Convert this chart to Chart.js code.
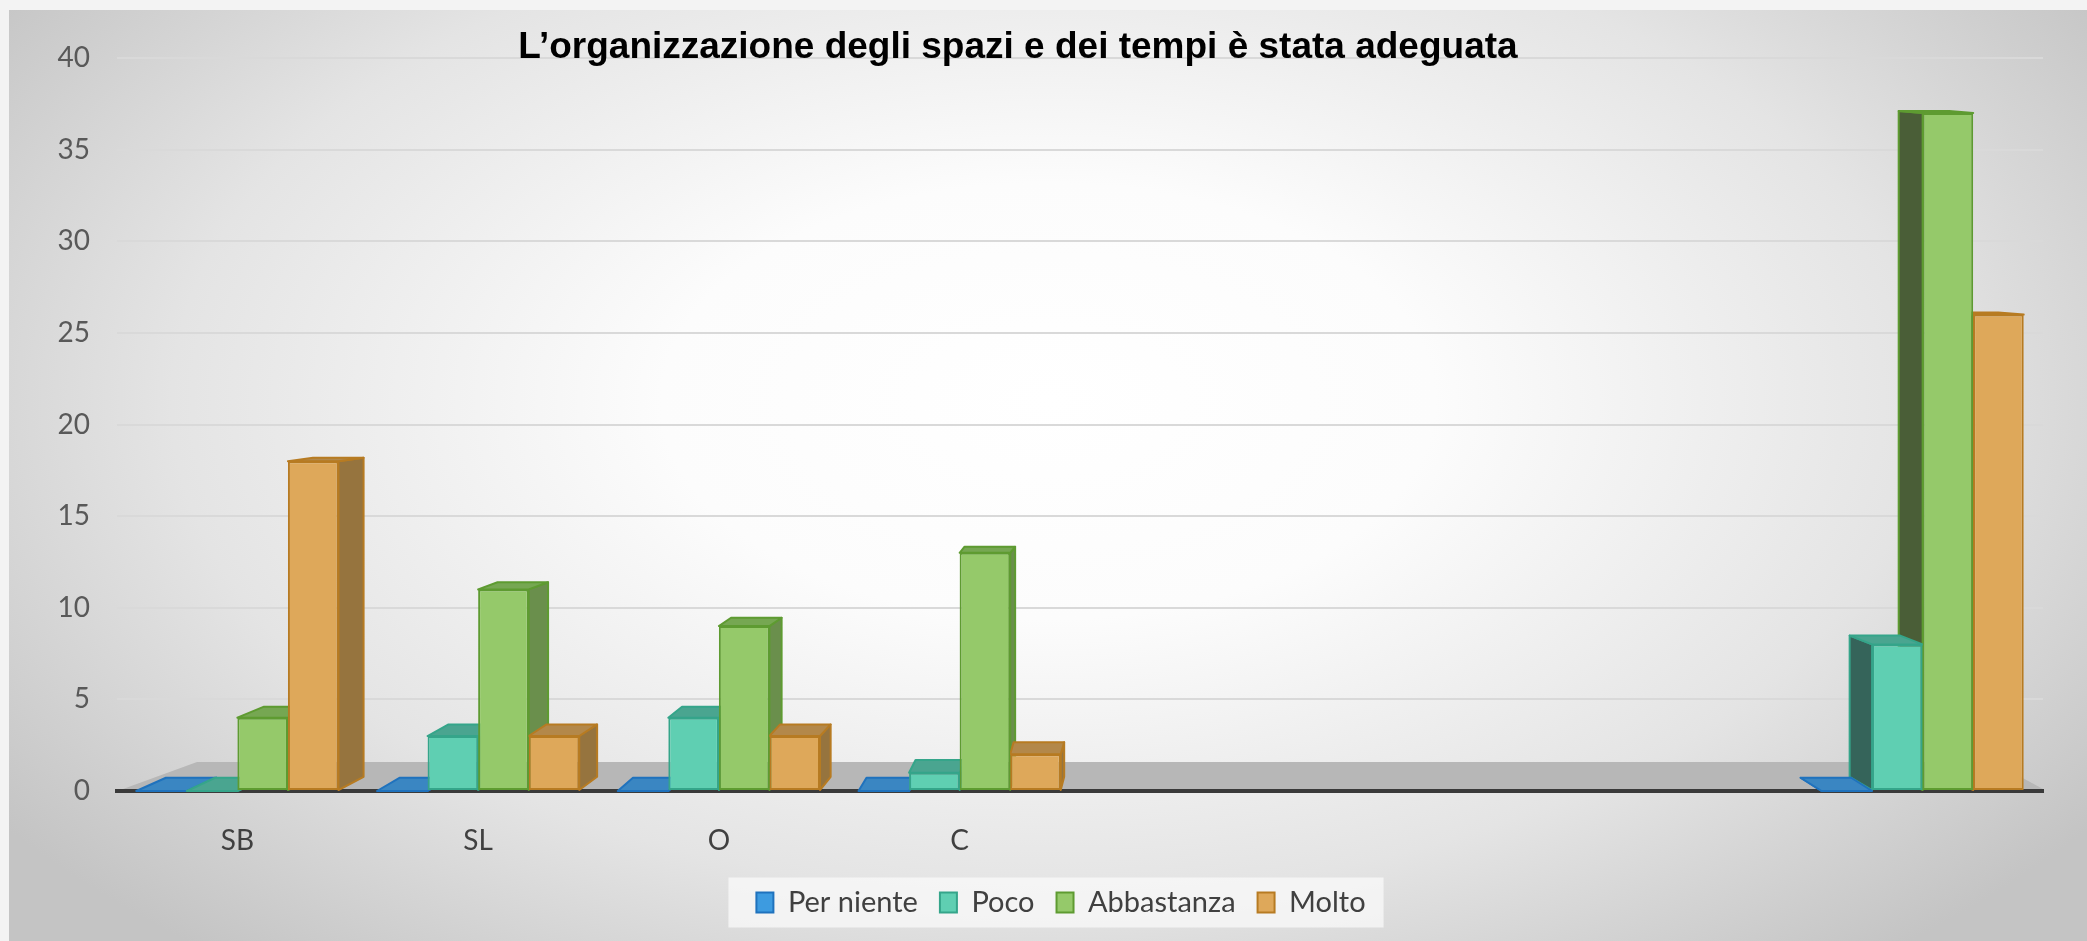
<!DOCTYPE html>
<html lang="it">
<head>
<meta charset="utf-8">
<title>L’organizzazione degli spazi e dei tempi è stata adeguata</title>
<script src="https://cdn.jsdelivr.net/npm/chart.js@4.4.0/dist/chart.umd.min.js"></script>
<style>
  html, body { margin: 0; padding: 0; background: #f3f3f3; overflow: hidden; }
  .cornice {
    position: absolute; left: 9px; top: 10px; width: 2078px; height: 931px;
    background: radial-gradient(ellipse 62% 78% at 50% 42%, #ffffff 0%, #fcfcfc 30%, #e4e4e4 68%, #c4c4c4 100%);
  }
  #grafico { position: absolute; left: 0; top: 0; }
  .titolo {
    position: absolute; left: 0; top: 24px; width: 2036px; text-align: center;
    font: bold 37px "Liberation Sans", Arial, sans-serif; line-height: 44px; color: #000;
  }
</style>
</head>
<body>
<div class="cornice"></div>
<canvas id="grafico" width="2087" height="941"></canvas>
<div class="titolo">L’organizzazione degli spazi e dei tempi è stata adeguata</div>
<script>
// dati (l'ultimo gruppo senza etichetta è il totale)
let categorie = ['SB', 'SL', 'O', 'C', '', '', '', '']
let serie = ['Per niente', 'Poco', 'Abbastanza', 'Molto']
let perNiente = [0, 0, 0, 0, null, null, null, 0]
let poco = [0, 3, 4, 1, null, null, null, 8]
let abbastanza = [4, 11, 9, 13, null, null, null, 37]
let molto = [18, 3, 3, 2, null, null, null, 26]
let tickY = [0, 5, 10, 15, 20, 25, 30, 35, 40]

// colori: fronte, bordo, cima, lato, lato in ombra
let colori = [
  { fronte: '#3d9be0', bordo: '#1f72bd', cima: '#3a86c2', lato: '#2c6a9c', latoScuro: '#25557d' },
  { fronte: '#5fcfb2', bordo: '#35a58a', cima: '#4aa590', lato: '#3f8f7b', latoScuro: '#35645a' },
  { fronte: '#95c96a', bordo: '#5e9b31', cima: '#76a752', lato: '#6a8f4c', latoScuro: '#4a5e37' },
  { fronte: '#dea85a', bordo: '#b77b22', cima: '#b3884a', lato: '#96743e', latoScuro: '#6e5530' }
]

let valori = [perNiente, poco, abbastanza, molto]
let font = 'Lato, "Open Sans", sans-serif'

// finto 3D: pavimento, facce laterali e superiori (le facce frontali le disegna Chart.js)
const profondita = {
  id: 'profondita',
  beforeDatasetsDraw(chart) {
    let ctx = chart.ctx
    let area = chart.chartArea
    let y0 = chart.scales.y.getPixelForValue(0)
    ctx.save()
    ctx.fillStyle = '#b7b7b7'
    ctx.beginPath()
    ctx.moveTo(area.left + 6, y0 - 2)
    ctx.lineTo(area.left + 80, y0 - 29)
    ctx.lineTo(area.right - 50, y0 - 29)
    ctx.lineTo(area.right, y0 - 2)
    ctx.closePath()
    ctx.fill()

    let dy = (y) => Math.max(2, 0.03 * (y - 350))

    ;['lato', 'cima'].forEach((fase) => {
      chart.data.datasets.forEach((ds, i) => {
        let meta = chart.getDatasetMeta(i)
        meta.data.forEach((bar, j) => {
          if (ds.data[j] == null) return
          let l = bar.x - bar.width / 2
          let r = bar.x + bar.width / 2
          let top = bar.y
          let base = bar.base
          let dx = 0.03 * (1150 - bar.x)
          ctx.strokeStyle = colori[i].bordo
          ctx.lineWidth = 2
          ctx.lineJoin = 'round'
          ctx.beginPath()
          if (fase === 'lato') {
            let e = dx > 0 ? r : l
            ctx.fillStyle = dx > 0 ? colori[i].lato : colori[i].latoScuro
            ctx.moveTo(e, top)
            ctx.lineTo(e + dx, top - dy(top))
            ctx.lineTo(e + dx, base - dy(base))
            ctx.lineTo(e, base)
          } else {
            ctx.fillStyle = colori[i].cima
            ctx.moveTo(l, top)
            ctx.lineTo(l + dx, top - dy(top))
            ctx.lineTo(r + dx, top - dy(top))
            ctx.lineTo(r, top)
          }
          ctx.closePath()
          ctx.fill()
          ctx.stroke()
        })
      })
    })
    ctx.restore()
  }
}

// legenda un po' più a sinistra + riquadro chiaro dietro
const sfondoLegenda = {
  id: 'sfondoLegenda',
  afterUpdate(chart) {
    let leg = chart.legend
    if (!leg) return
    leg.left -= 19
    leg.right -= 19
    leg.adjustHitBoxes()
  },
  beforeDraw(chart) {
    let leg = chart.legend
    if (!leg || !leg.lineWidths) return
    let pad = leg.options.labels.padding
    let lw = leg.lineWidths[0]
    let x0 = (leg.left + pad + leg.right - lw) / 2
    let c = leg.top + pad + 14.5
    let ctx = chart.ctx
    ctx.save()
    ctx.fillStyle = 'rgba(250,250,250,0.75)'
    ctx.fillRect(x0 - 28, c - 25, lw - pad + 46, 50)
    ctx.restore()
  }
}

let ctx = document.getElementById('grafico').getContext('2d')
let grafico = new Chart(ctx, {
  type: 'bar',
  data: {
    labels: categorie,
    datasets: serie.map((nome, i) => ({
      label: nome,
      data: valori[i],
      backgroundColor: colori[i].fronte,
      borderColor: colori[i].bordo,
      borderWidth: 2,
      borderSkipped: false,
      categoryPercentage: 0.84,
      barPercentage: 1.0
    }))
  },
  options: {
    responsive: false,
    animation: false,
    events: [],
    layout: { padding: { top: 58, right: 44, bottom: 14, left: 0 } },
    scales: {
      x: {
        grid: { display: false },
        border: { display: true, color: '#3a3a3a', width: 4 },
        ticks: { color: '#404040', padding: 25, font: { family: font, size: 28 } },
        afterFit: (scale) => { scale.height = 75 }
      },
      y: {
        min: 0,
        max: 40,
        afterBuildTicks: (scale) => { scale.ticks = tickY.map(v => ({ value: v })) },
        grid: {
          drawTicks: false,
          lineWidth: 2,
          color: (c) => c.tick && c.tick.value === 0 ? 'rgba(0,0,0,0)' : '#d9d9d9'
        },
        border: { display: false },
        ticks: { color: '#595959', padding: 27, font: { family: font, size: 28 } },
        afterFit: (scale) => { scale.width = 117 }
      }
    },
    plugins: {
      title: { display: false },
      tooltip: { enabled: false },
      legend: {
        position: 'bottom',
        fullSize: false,
        labels: {
          color: '#404040',
          boxWidth: 17,
          boxHeight: 20,
          padding: 22,
          font: { family: font, size: 29 }
        }
      }
    }
  },
  plugins: [sfondoLegenda, profondita]
})
</script>
</body>
</html>
